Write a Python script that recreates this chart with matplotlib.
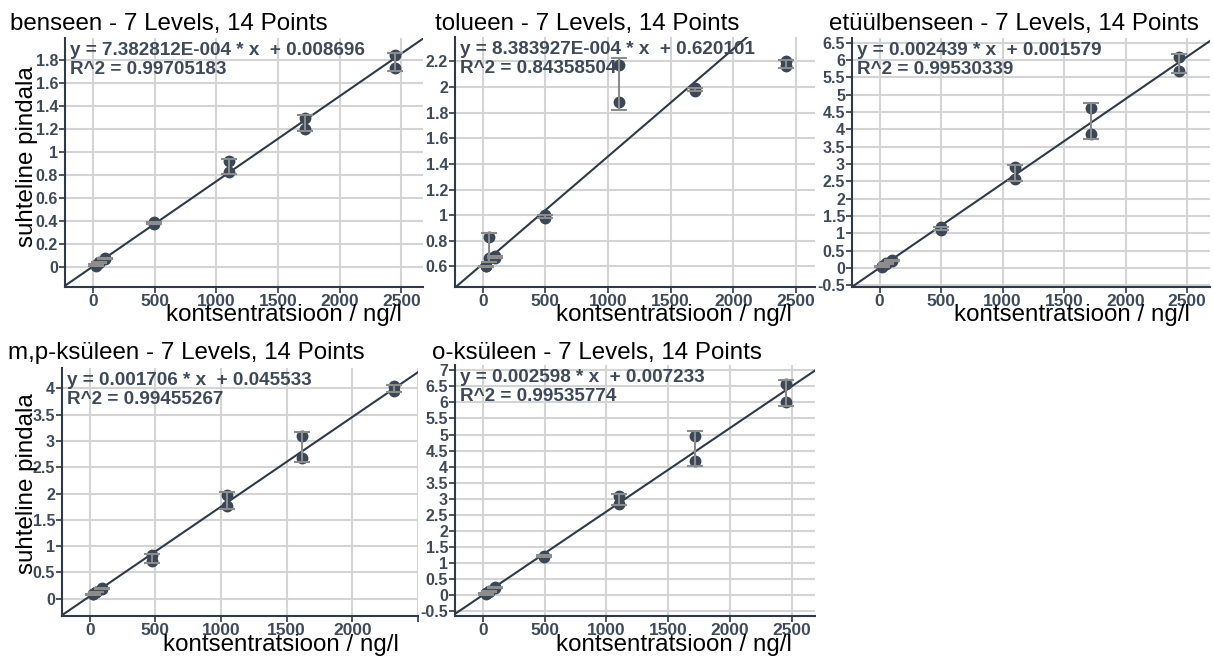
import numpy as np
import matplotlib
matplotlib.use('Agg')
import matplotlib.pyplot as plt
from matplotlib.ticker import FuncFormatter

plt.rcParams['font.family'] = ['Liberation Sans', 'DejaVu Sans']
plt.rcParams['axes.unicode_minus'] = False

W, H = 1213, 657

# compounds / panel titles
names = ['benseen', 'tolueen', 'etüülbenseen', 'm,p-ksüleen', 'o-ksüleen']

# concentration levels (ng/l)
conc_benseen = [24, 49, 98, 493, 1103, 1716, 2446]
conc_tolueen = [24, 49, 98, 497, 1090, 1694, 2418]
conc_etyyl = [24, 49, 98, 496, 1105, 1717, 2431]
conc_mp = [23, 47, 94, 475, 1047, 1619, 2318]
conc_o = [24, 49, 98, 499, 1105, 1717, 2450]

# relative area, two injections per level
resp_benseen = [[0.015, 0.025], [0.04, 0.045], [0.075, 0.08], [0.38, 0.39],
                [0.92, 0.83], [1.30, 1.20], [1.84, 1.73]]
resp_tolueen = [[0.60, 0.605], [0.83, 0.67], [0.67, 0.68], [1.00, 0.98],
                [2.17, 1.88], [1.99, 1.97], [2.205, 2.16]]
resp_etyyl = [[0.04, 0.06], [0.11, 0.13], [0.21, 0.23], [1.17, 1.11],
              [2.91, 2.57], [4.62, 3.88], [6.10, 5.70]]
resp_mp = [[0.08, 0.09], [0.12, 0.13], [0.18, 0.20], [0.83, 0.71],
           [1.98, 1.76], [3.09, 2.68], [4.04, 3.95]]
resp_o = [[0.03, 0.06], [0.12, 0.14], [0.24, 0.27], [1.24, 1.20],
          [3.09, 2.85], [4.96, 4.19], [6.58, 6.00]]

# calibration fit
slopes = [7.382812e-4, 8.383927e-4, 0.002439, 0.001706, 0.002598]
intercepts = [0.008696, 0.620101, 0.001579, 0.045533, 0.007233]
slope_txt = ['7.382812E-004', '8.383927E-004', '0.002439', '0.001706', '0.002598']
icpt_txt = ['0.008696', '0.620101', '0.001579', '0.045533', '0.007233']
r2_txt = ['0.99705183', '0.84358504', '0.99530339', '0.99455267', '0.99535774']

# axis ticks
yticks_list = [np.arange(0, 1.81, 0.2), np.arange(0.6, 2.21, 0.2), np.arange(-0.5, 6.51, 0.5),
               np.arange(0, 4.01, 0.5), np.arange(-0.5, 7.01, 0.5)]
ylims = [(-0.17, 1.99), (0.44, 2.39), (-0.55, 6.64), (-0.33, 4.39), (-0.64, 7.16)]
xlims = [(-227, 2676), (-221, 2652), (-224, 2687), (-211, 2500), (-224, 2687)]
xticks = [0, 500, 1000, 1500, 2000, 2500]

concs = [conc_benseen, conc_tolueen, conc_etyyl, conc_mp, conc_o]
resps = [resp_benseen, resp_tolueen, resp_etyyl, resp_mp, resp_o]

# layout in pixels: axes box (left, top, right, bottom), title x, title baseline, xlabel centre
boxes = [(65, 38, 423, 287), (455, 37, 815, 287), (852, 38, 1210, 287),
         (62, 368, 418, 616), (455, 365, 815, 616)]
title_pos = [(10, 30), (435, 30), (829, 30), (8, 359), (432, 359)]
xlabel_pos = [(284, 321), (674, 321), (1072, 321), (281, 651), (674, 651)]
ylabel_pos = [(27, 157), None, None, (27, 484), None]

TXT = '#3e4a59'
DARK = '#2f3a48'
GRID = '#d4d4d4'


def px(x, y):
    return x / W, 1 - y / H


fig = plt.figure(figsize=(W / 100, H / 100), dpi=100)

for i in range(5):
    l, t, r, b = boxes[i]
    ax = fig.add_axes([l / W, 1 - b / H, (r - l) / W, (b - t) / H])

    x = np.array(concs[i], dtype=float)
    y = np.array(resps[i], dtype=float)
    mean = y.mean(axis=1)
    sd = y.std(axis=1, ddof=1)

    ax.axline((0, intercepts[i]), slope=slopes[i], color=DARK, lw=1.5, zorder=2)
    ax.plot(np.repeat(x, 2), y.ravel(), 'o', color='#3a4757', ms=7.5, zorder=3)
    ax.errorbar(x, mean, yerr=sd, fmt='none', ecolor='#8c8c8c', elinewidth=1.5,
                capsize=6, capthick=1.5, zorder=4)

    ax.set_xlim(*xlims[i])
    ax.set_ylim(*ylims[i])
    ax.set_xticks(xticks)
    if i == 3:
        ax.set_xticklabels(['0', '500', '1000', '1500', '2000', ''])
    else:
        ax.xaxis.set_major_formatter(FuncFormatter(lambda v, p: '%g' % v))
    ax.set_yticks(yticks_list[i])
    ax.yaxis.set_major_formatter(FuncFormatter(lambda v, p: '%g' % round(v, 2)))

    ax.grid(True, color=GRID, lw=1.5, zorder=0)
    ax.set_axisbelow(True)
    for s in ['top', 'right']:
        ax.spines[s].set_visible(False)
    for s in ['left', 'bottom']:
        ax.spines[s].set_color(DARK)
        ax.spines[s].set_linewidth(1.5)
    ax.tick_params(direction='out', length=4, width=1.2, color=DARK, pad=1,
                   labelcolor=TXT)
    ax.tick_params(axis='x', labelsize=12.5)
    ax.tick_params(axis='y', labelsize=11.5)
    for lab in ax.get_xticklabels() + ax.get_yticklabels():
        lab.set_fontweight('bold')

    ax.text(0.015, 0.985, f'y = {slope_txt[i]} * x  + {icpt_txt[i]}\nR^2 = {r2_txt[i]}',
            transform=ax.transAxes, ha='left', va='top', fontsize=13.6, fontweight='bold',
            color=TXT, linespacing=1.2, zorder=5)

    tx, ty = title_pos[i]
    fig.text(*px(tx, ty), f'{names[i]} - 7 Levels, 14 Points', fontsize=17.4,
             ha='left', va='baseline', color='black')
    lx, ly = xlabel_pos[i]
    fig.text(*px(lx, ly), 'kontsentratsioon / ng/l', fontsize=17.4,
             ha='center', va='baseline', color='black')
    if ylabel_pos[i] is not None:
        yx, yy = ylabel_pos[i]
        fig.text(*px(yx, yy), 'suhteline pindala', fontsize=17.4, rotation=90,
                 ha='center', va='center', color='black')

fig.savefig('out.png', dpi=100)
